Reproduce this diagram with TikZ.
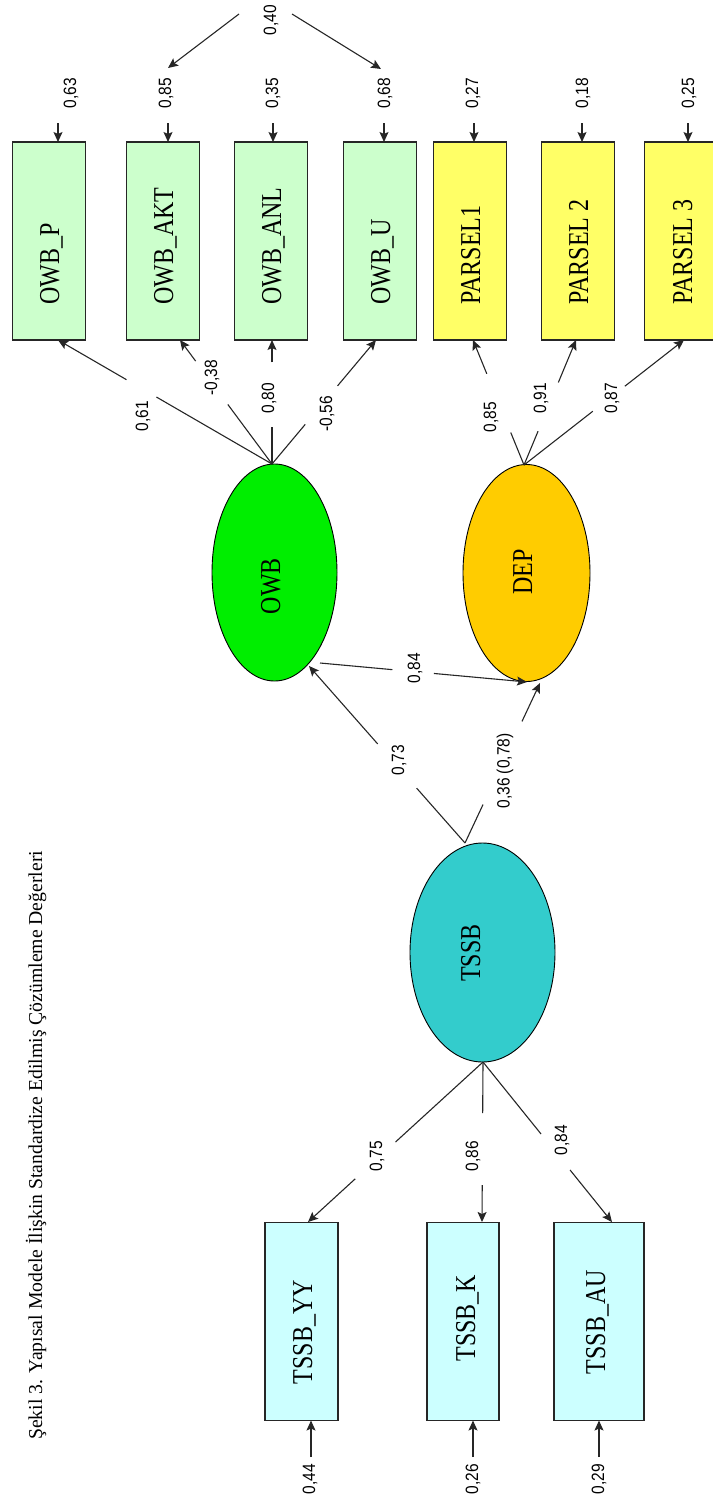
\documentclass[tikz,border=0pt]{standalone}
\usepackage{graphicx}
\usepackage{fontspec}
\setmainfont{Liberation Serif}
\newfontfamily\numfam{Liberation Sans}
\usetikzlibrary{arrows.meta,calc,shapes.geometric}
\definecolor{owbbox}{HTML}{CCFFCC}
\definecolor{parbox}{HTML}{FFFF66}
\definecolor{tsbox}{HTML}{CCFFFF}
\definecolor{owbell}{HTML}{00EE00}
\definecolor{depell}{HTML}{FFCC00}
\definecolor{tsell}{HTML}{33CCCC}
\newcommand\btxt[1]{\scalebox{1}[1.2]{#1}}
\newcommand\ntxt[1]{\scalebox{1}[1.15]{#1}}
\newcommand\gapline[4]{%
  \draw[conn] (#1) -- ($(#1)!#3!(#2)$);
  \draw[conn,arr] ($(#1)!#4!(#2)$) -- (#2);}
\begin{document}
\begin{tikzpicture}[x=1pt,y=-1pt,
  conn/.style={line width=1.1pt, draw=black!85},
  arr/.style={-{Stealth[length=10pt,width=9pt,inset=2pt]}},
  box/.style={draw=black!85, line width=1.3pt, rectangle, inner sep=0pt, outer sep=0pt, minimum height=198pt},
  gbox/.style={box, fill=owbbox, minimum width=73pt},
  ybox/.style={box, fill=parbox, minimum width=73pt},
  cbox/.style={box, fill=tsbox, minimum width=73pt},
  lat/.style={draw=black, line width=0.9pt, ellipse, inner sep=0pt, outer sep=0pt},
  btext/.style={rotate=90, anchor=base west, inner sep=0pt, font=\fontsize{24}{24}\selectfont},
  num/.style={rotate=90, inner sep=0pt, font=\numfam\fontsize{15.5}{16}\selectfont},
]
\useasboundingbox (0,0) rectangle (712,1504);

% caption
\node[rotate=90, anchor=base west, inner sep=0pt, font=\fontsize{19.7}{20}\selectfont] (cap) at (42,1440)
  {Şekil 3. Yapısal Modele İlişkin Standardize Edilmiş Çözümleme Değerleri};

% top indicator boxes
\node[gbox] (OWBP) at (49,241) {};
\node[gbox] (OWBAKT) at (163,241) {};
\node[gbox] (OWBANL) at (271,241) {};
\node[gbox] (OWBU) at (380,241) {};
\node[ybox] (P1) at (470,241) {};
\node[ybox] (P2) at (578,241) {};
\node[ybox] (P3) at (681,241) {};
\node[btext] (tOWBP) at (59,305) {\btxt{OWB\_P}};
\node[btext] (tOWBAKT) at (173,305) {\btxt{OWB\_AKT}};
\node[btext] (tOWBANL) at (281,305) {\btxt{OWB\_ANL}};
\node[btext] (tOWBU) at (390,305) {\btxt{OWB\_U}};
\node[btext] (tP1) at (480,305) {\btxt{PARSEL1}};
\node[btext] (tP2) at (588,305) {\btxt{PARSEL 2}};
\node[btext] (tP3) at (692,305) {\btxt{PARSEL 3}};

% bottom indicator boxes
\node[cbox] (YY) at (301.5,1321.5) {};
\node[cbox, minimum width=72pt] (K) at (463,1321.5) {};
\node[cbox, minimum width=90pt] (AU) at (599,1321.5) {};
\node[btext, anchor=base] (tYY) at (312,1332) {\btxt{TSSB\_YY}};
\node[btext, anchor=base] (tK) at (475,1318) {\btxt{TSSB\_K}};
\node[btext, anchor=base] (tAU) at (605,1322) {\btxt{TSSB\_AU}};

% latent variables
\node[lat, fill=owbell, minimum width=125pt, minimum height=217pt] (OWB) at (274.5,572.5) {};
\node[lat, fill=depell, minimum width=127pt, minimum height=217pt] (DEP) at (526.5,573) {};
\node[lat, fill=tsell, minimum width=145pt, minimum height=219pt] (TSSB) at (482.5,952.5) {};
\node[btext, anchor=base] (tOWB) at (280,586) {\btxt{OWB}};
\node[btext, anchor=base] (tDEP) at (532,572) {\btxt{DEP}};
\node[btext, anchor=base] (tTSSB) at (480,953) {\btxt{TSSB}};

% connector end points
\coordinate (owbTop) at (272,464);
\coordinate (depTop) at (524,465);
\coordinate (tsTop) at (465,843);
\coordinate (tsBot) at (483,1062);
\coordinate (owbR) at (320,663);
\coordinate (depL) at (527,682);
\coordinate (owbIn) at (309,666);
\coordinate (depIn) at (540,683);
\coordinate (aP) at (58,340);
\coordinate (aAKT) at (180,340);
\coordinate (aANL) at (272,340);
\coordinate (aU) at (376,340);
\coordinate (aP1) at (473,340);
\coordinate (aP2) at (576,340);
\coordinate (aP3) at (684,340);
\coordinate (aYY) at (308,1222);
\coordinate (aK) at (482,1222);
\coordinate (aAU) at (612,1222);

% loadings OWB
\gapline{owbTop}{aP}{0.54}{0.68}
\gapline{owbTop}{aAKT}{0.48}{0.83}
\gapline{owbTop}{aANL}{0.30}{0.82}
\gapline{owbTop}{aU}{0.32}{0.63}
% loadings DEP
\gapline{depTop}{aP1}{0.26}{0.73}
\gapline{depTop}{aP2}{0.27}{0.66}
\gapline{depTop}{aP3}{0.43}{0.63}
% structural paths
\gapline{owbR}{depL}{0.35}{0.55}
\gapline{tsTop}{owbIn}{0.31}{0.56}
\gapline{tsTop}{depIn}{0.24}{0.76}
% loadings TSSB
\gapline{tsBot}{aYY}{0.50}{0.73}
\gapline{tsBot}{aK}{0.32}{0.77}
\gapline{tsBot}{aAU}{0.45}{0.675}

% error arrows top
\foreach \n/\x/\b in {eP/58/OWBP, eAKT/168/OWBAKT, eANL/273/OWBANL, eU/384/OWBU, eP1/474/P1, eP2/582/P2, eP3/688/P3}{
  \coordinate (\n) at (\x,123);
  \draw[conn,arr] (\n) -- (\n |- \b.north);
}
% error arrows bottom
\foreach \n/\x/\b in {eYY/311/YY, eK/473/K, eAU/599/AU}{
  \coordinate (\n) at (\x,1457);
  \draw[conn,arr] (\n) -- (\n |- \b.south);
}

% covariance between errors
\coordinate (cvL) at (239,14);
\coordinate (cvLt) at (168,68);
\coordinate (cvR) at (292,14);
\coordinate (cvRt) at (381,69);
\draw[conn,arr] (cvL) -- (cvLt);
\draw[conn,arr] (cvR) -- (cvRt);
\node[num] (n40) at (271,20) {\ntxt{0,40}};

% error labels
\node[num] (n63) at (71,93) {\ntxt{0,63}};
\node[num] (n85a) at (166,93) {\ntxt{0,85}};
\node[num] (n35) at (273,93) {\ntxt{0,35}};
\node[num] (n68) at (385,93) {\ntxt{0,68}};
\node[num] (n27) at (473,93) {\ntxt{0,27}};
\node[num] (n18) at (583,93) {\ntxt{0,18}};
\node[num] (n25) at (689,93) {\ntxt{0,25}};
\node[num] (n44) at (310,1479) {\ntxt{0,44}};
\node[num] (n26) at (473,1479) {\ntxt{0,26}};
\node[num] (n29) at (599,1479) {\ntxt{0,29}};

% loading labels
\node[num] (n61) at (143,416) {\ntxt{0,61}};
\node[num] (n38) at (212,378) {\ntxt{-0,38}};
\node[num] (n80) at (269,398) {\ntxt{0,80}};
\node[num] (n56) at (327,414) {\ntxt{-0,56}};
\node[num] (n85b) at (491,417) {\ntxt{0,85}};
\node[num] (n91) at (541,398) {\ntxt{0,91}};
\node[num] (n87) at (612,398) {\ntxt{0,87}};
\node[num] (n75) at (377,1156) {\ntxt{0,75}};
\node[num] (n86) at (473,1156) {\ntxt{0,86}};
\node[num] (n84b) at (562,1140) {\ntxt{0,84}};

% structural labels
\node[num] (n84a) at (415,668) {\ntxt{0,84}};
\node[num] (n73) at (399,760) {\ntxt{0,73}};
\node[num] (n36) at (505,771) {\ntxt{0,36 (0,78)}};
\end{tikzpicture}
\end{document}
